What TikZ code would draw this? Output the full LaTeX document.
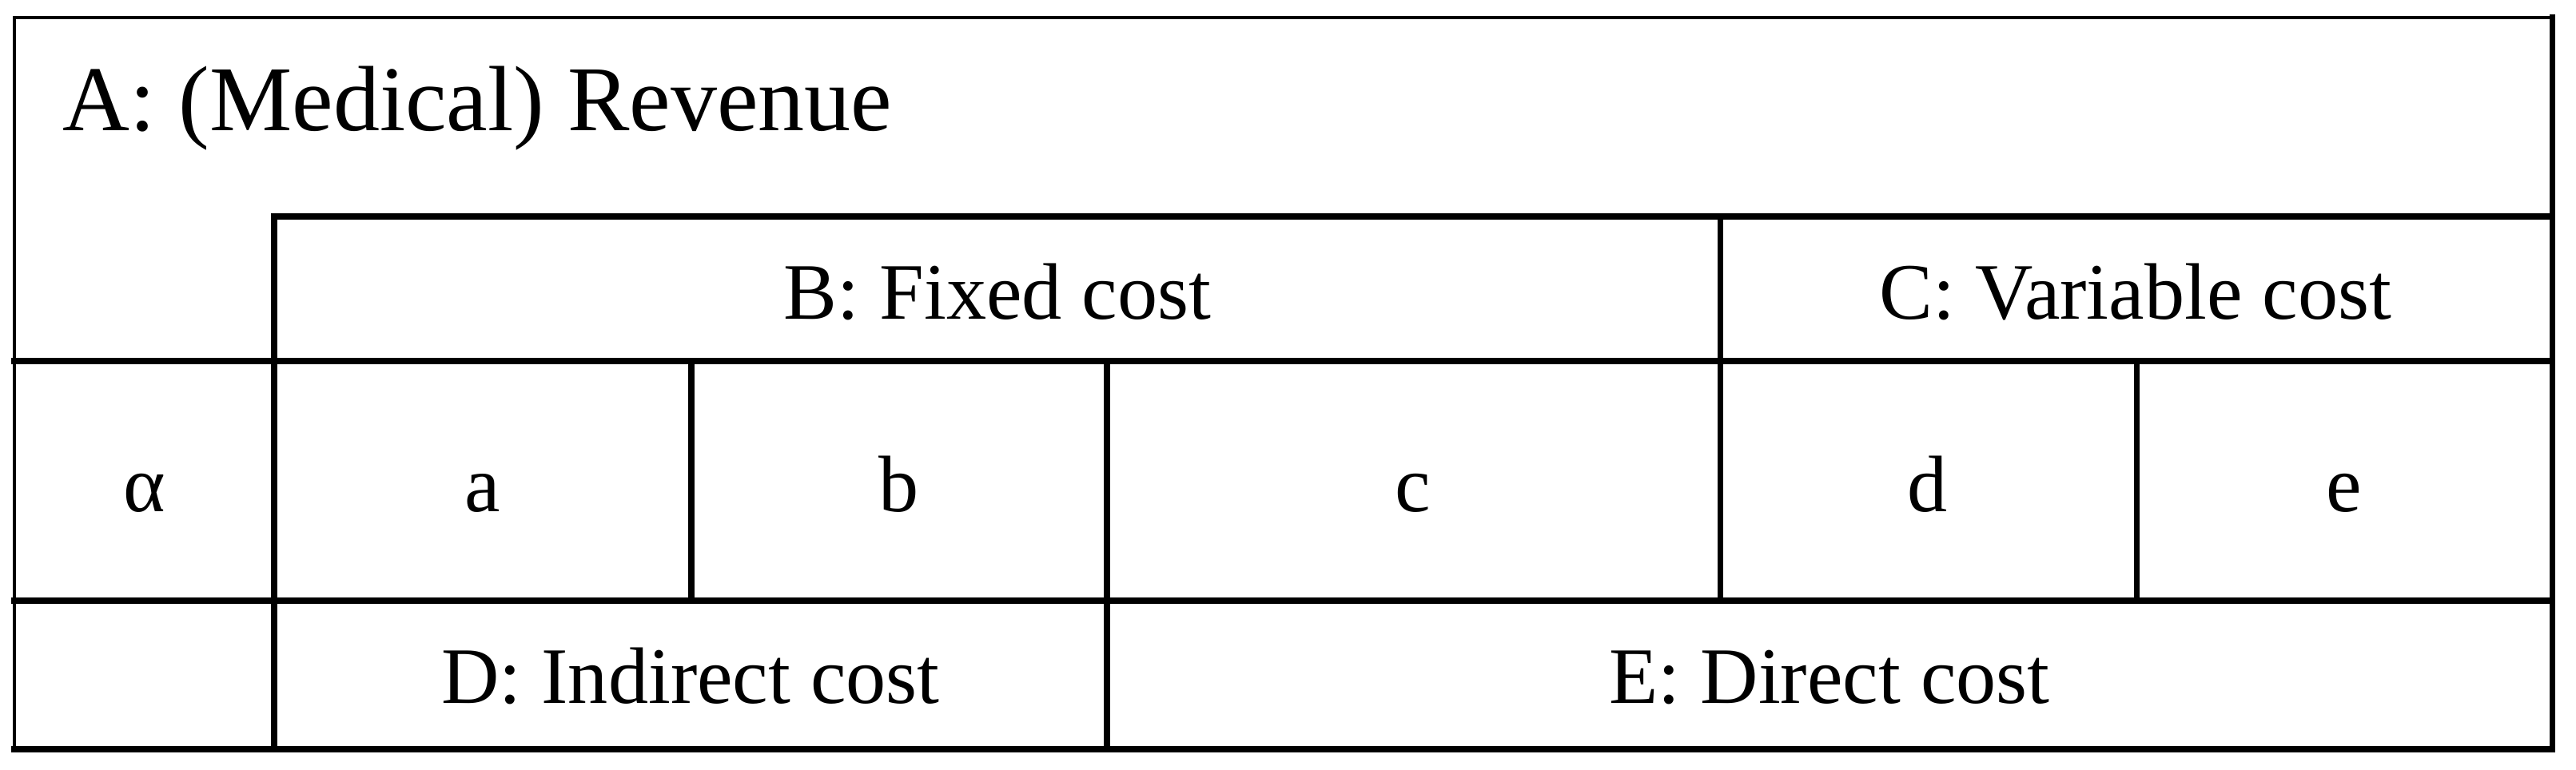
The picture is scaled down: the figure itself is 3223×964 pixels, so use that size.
\documentclass[tikz,border=0pt]{standalone}
\usepackage{fontspec}
\setmainfont{Liberation Serif}
\usetikzlibrary{positioning}

\begin{document}
\begin{tikzpicture}[x=0.01cm, y=-0.01cm]
    % Define styles
    \tikzset{
        every node/.style={font=\fontsize{28.5}{34}\selectfont, inner sep=0pt},
        cell/.style={anchor=base},
        title/.style={anchor=base west, font=\fontsize{33}{40}\selectfont},
        rule/.style={line width=2pt, line cap=rect},
        border/.style={line width=1pt, line cap=rect}
    }
    \useasboundingbox (0,0) rectangle (3223,964);

    % Outer frame
    \draw [border] (18,938) -- (18,22) -- (3193,22);
    \draw [rule] (3193,22) -- (3193,938) -- (18,938);

    % Row and column rules
    \draw [rule] (343,271) -- (3193,271);
    \draw [rule] (18,452) -- (3193,452);
    \draw [rule] (18,752) -- (3193,752);
    \draw [rule] (343,271) -- (343,938);
    \draw [rule] (865,452) -- (865,752);
    \draw [rule] (1385,452) -- (1385,938);
    \draw [rule] (2152,271) -- (2152,752);
    \draw [rule] (2673,452) -- (2673,752);

    % Revenue
    \node (revenue) [title] at (78,164) {A: (Medical) Revenue};

    % Fixed and variable cost
    \node (fixed) [cell] at (1248,400) {B: Fixed cost};
    \node (variable) [cell] at (2672,400) {C: Variable cost};

    % Cost items
    \node (alpha) [cell] at (181,640) {α};
    \node (a) [cell] at (604,640) {a};
    \node (b) [cell] at (1125,640) {b};
    \node (c) [cell] at (1768,640) {c};
    \node (d) [cell] at (2412,640) {d};
    \node (e) [cell] at (2933,640) {e};

    % Indirect and direct cost
    \node (indirect) [cell] at (864,880) {D: Indirect cost};
    \node (direct) [cell] at (2289,880) {E: Direct cost};

\end{tikzpicture}
\end{document}
